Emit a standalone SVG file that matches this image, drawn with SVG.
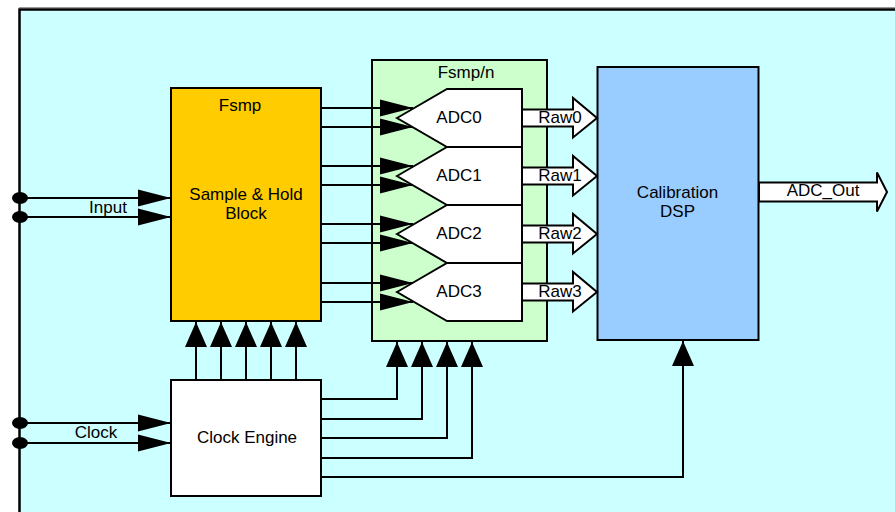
<svg xmlns="http://www.w3.org/2000/svg" width="895" height="512" viewBox="0 0 895 512">
<style>
.box{stroke:#000;stroke-width:2}
.t{font-family:"Liberation Sans",Arial,sans-serif;font-size:17px;fill:#000;text-anchor:middle}
.w{fill:none;stroke:#000;stroke-width:2}
.blk{fill:#fff;stroke:#000;stroke-width:2;stroke-linejoin:miter}
</style>
<defs>
<marker id="ah" markerUnits="userSpaceOnUse" markerWidth="33" markerHeight="17" refX="33" refY="8.5" orient="auto" overflow="visible">
<path d="M0,0 L33,8.5 L0,17 Z" fill="#000"/>
</marker>
<marker id="av" markerUnits="userSpaceOnUse" markerWidth="25" markerHeight="22" refX="25" refY="11" orient="auto" overflow="visible">
<path d="M0,0 L25,11 L0,22 Z" fill="#000"/>
</marker>
</defs>
<rect width="895" height="512" fill="#fff"/>
<rect x="19.5" y="9.5" width="900" height="520" fill="#CCFFFF" stroke="#000" stroke-width="2.5"/>
<line x1="19" y1="7.5" x2="895" y2="7.5" stroke="#999" stroke-width="1"/>

<g id="sample-hold">
<rect class="box" x="171" y="88" width="150" height="233" fill="#FFCC00"/>
<text class="t" x="240" y="111">Fsmp</text>
<text class="t" x="246" y="200">Sample &amp; Hold</text>
<text class="t" x="246" y="219">Block</text>
</g>
<g id="clock-engine">
<rect class="box" x="171" y="380" width="150" height="116" fill="#fff"/>
<text class="t" x="247" y="443">Clock Engine</text>
</g>
<g id="adc-bank">
<rect class="box" x="372" y="60" width="175" height="281" fill="#CCFFCC"/>
<text class="t" x="466" y="78">Fsmp/n</text>
</g>
<g id="dsp">
<rect class="box" x="597.5" y="67" width="161" height="273" fill="#99CCFF"/>
<text class="t" x="677.5" y="198">Calibration</text>
<text class="t" x="677.5" y="217">DSP</text>
</g>

<g id="connectors">
<ellipse cx="20" cy="198" rx="8" ry="6" fill="#000"/>
<ellipse cx="20" cy="217" rx="8" ry="6" fill="#000"/>
<ellipse cx="20" cy="423" rx="8" ry="6" fill="#000"/>
<ellipse cx="20" cy="443" rx="8" ry="6" fill="#000"/>
<line class="w" x1="20" y1="198" x2="171" y2="198" marker-end="url(#ah)"/>
<line class="w" x1="20" y1="217" x2="171" y2="217" marker-end="url(#ah)"/>
<text class="t" x="108" y="213">Input</text>
<line class="w" x1="20" y1="423" x2="171" y2="423" marker-end="url(#ah)"/>
<line class="w" x1="20" y1="443" x2="171" y2="443" marker-end="url(#ah)"/>
<text class="t" x="96" y="438">Clock</text>
<line class="w" x1="196" y1="380" x2="196" y2="322" marker-end="url(#av)"/>
<line class="w" x1="221" y1="380" x2="221" y2="322" marker-end="url(#av)"/>
<line class="w" x1="246" y1="380" x2="246" y2="322" marker-end="url(#av)"/>
<line class="w" x1="271" y1="380" x2="271" y2="322" marker-end="url(#av)"/>
<line class="w" x1="296" y1="380" x2="296" y2="322" marker-end="url(#av)"/>
<line class="w" x1="321" y1="108" x2="413" y2="108" marker-end="url(#ah)"/>
<line class="w" x1="321" y1="127" x2="413" y2="127" marker-end="url(#ah)"/>
<line class="w" x1="321" y1="166" x2="413" y2="166" marker-end="url(#ah)"/>
<line class="w" x1="321" y1="185" x2="413" y2="185" marker-end="url(#ah)"/>
<line class="w" x1="321" y1="224" x2="413" y2="224" marker-end="url(#ah)"/>
<line class="w" x1="321" y1="243" x2="413" y2="243" marker-end="url(#ah)"/>
<line class="w" x1="321" y1="283" x2="413" y2="283" marker-end="url(#ah)"/>
<line class="w" x1="321" y1="302" x2="413" y2="302" marker-end="url(#ah)"/>
<path class="w" d="M321,399 H397 V342" marker-end="url(#av)"/>
<path class="w" d="M321,419 H422 V342" marker-end="url(#av)"/>
<path class="w" d="M321,438 H447 V342" marker-end="url(#av)"/>
<path class="w" d="M321,458 H472 V342" marker-end="url(#av)"/>
<path class="w" d="M321,477 H683 V341" marker-end="url(#av)"/>
<polygon class="blk" points="522,109.5 573,109.5 573,98 597,118 573,137.5 573,126.5 522,126.5"/>
<polygon class="blk" points="522,167.5 573,167.5 573,156 597,176 573,195.5 573,184.5 522,184.5"/>
<polygon class="blk" points="522,225.5 573,225.5 573,214 597,234 573,253.5 573,242.5 522,242.5"/>
<polygon class="blk" points="522,283.5 573,283.5 573,272 597,292 573,311.5 573,300.5 522,300.5"/>
<text class="t" x="560" y="123">Raw0</text>
<text class="t" x="560" y="181">Raw1</text>
<text class="t" x="560" y="239">Raw2</text>
<text class="t" x="560" y="297">Raw3</text>
<polygon class="blk" points="759,182.5 877,182.5 877,172.5 887,192 877,211.5 877,201.5 759,201.5"/>
<text class="t" x="823" y="196">ADC_Out</text>
</g>

<g id="adc0">
<polygon class="blk" points="397,118 447,89 522,89 522,147 447,147"/>
<text class="t" x="459" y="123">ADC0</text>
</g>
<g id="adc1">
<polygon class="blk" points="397,176 447,147 522,147 522,205 447,205"/>
<text class="t" x="459" y="181">ADC1</text>
</g>
<g id="adc2">
<polygon class="blk" points="397,234 447,205 522,205 522,263 447,263"/>
<text class="t" x="459" y="239">ADC2</text>
</g>
<g id="adc3">
<polygon class="blk" points="397,292 447,263 522,263 522,321 447,321"/>
<text class="t" x="459" y="297">ADC3</text>
</g>
</svg>
